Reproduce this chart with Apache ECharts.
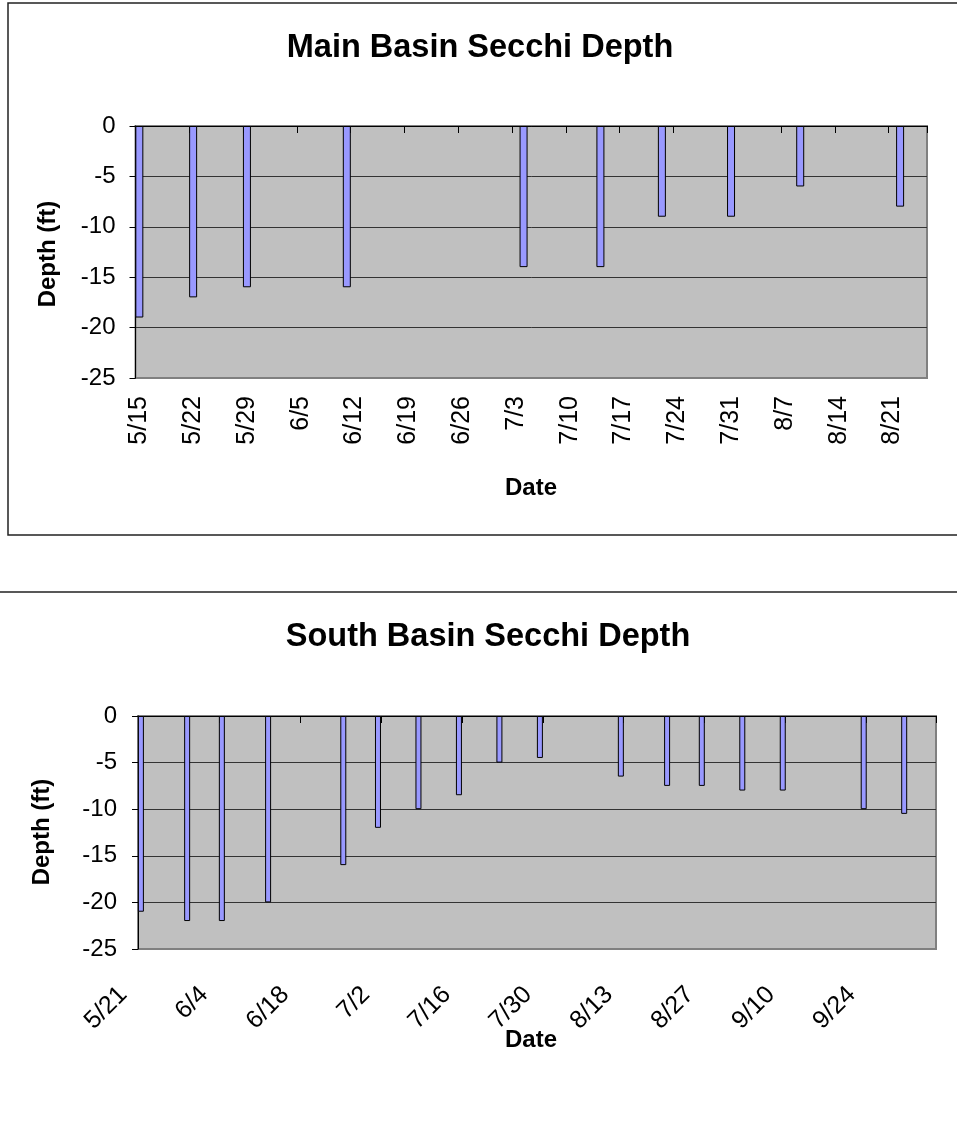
<!DOCTYPE html>
<html>
<head>
<meta charset="utf-8">
<script src="https://cdn.jsdelivr.net/npm/echarts@6/dist/echarts.min.js"></script>
<style>
  html, body { margin: 0; padding: 0; background: #fff; }
  #chart { width: 957px; height: 1123px; }
</style>
</head>
<body>
<div id="chart"></div>
<script>
// Main basin Secchi readings (negative = depth below surface, ft)
const mainDates = ['5/15', '5/22', '5/29', '6/11', '7/4', '7/14', '7/22', '7/31', '8/9', '8/22'];
const mainDepth = [-19, -17, -16, -16, -14, -14, -9, -9, -6, -8];
const mainRange = ['5/15', '8/25'];   // date axis extent
const mainLabelStep = 7;              // one label per week

// South basin Secchi readings
const southDates = ['5/21', '5/29', '6/4', '6/12', '6/25', '7/1', '7/8', '7/15', '7/22', '7/29',
                    '8/12', '8/20', '8/26', '9/2', '9/9', '9/23', '9/30'];
const southDepth = [-21, -22, -22, -20, -16, -12, -10, -8.5, -5, -4.5,
                    -6.5, -7.5, -7.5, -8, -8, -10, -10.5];
const southRange = ['5/21', '10/5'];
const southLabelStep = 14;            // one label every two weeks

// Depth axis
const depthMin = -25, depthMax = 0, depthStep = 5;

const YEAR = 2007;
function toDate(md) {
  const [m, d] = md.split('/').map(Number);
  return Date.UTC(YEAR, m - 1, d);
}
function fmt(t) {
  const d = new Date(t);
  return (d.getUTCMonth() + 1) + '/' + d.getUTCDate();
}
// One category per day across the axis extent; readings placed on their day.
function buildDaily(range, dates, values) {
  const cats = [], vals = [];
  const lookup = {};
  dates.forEach((d, i) => { lookup[fmt(toDate(d))] = values[i]; });
  for (let t = toDate(range[0]); t <= toDate(range[1]); t += 86400000) {
    const k = fmt(t);
    cats.push(k);
    vals.push(k in lookup ? lookup[k] : null);
  }
  return { cats, vals };
}

const mainSet = buildDaily(mainRange, mainDates, mainDepth);
const southSet = buildDaily(southRange, southDates, southDepth);

const FONT = 'Arial, "Liberation Sans", sans-serif';
const gridLineColors = ['#808080', '#333', '#333', '#333', '#333', '#333'];

function topAxis(gridIndex, cats, step) {
  return {
    type: 'category', gridIndex, position: 'top', data: cats, boundaryGap: true, z: 0,
    axisLine: { show: true, onZero: false, lineStyle: { color: '#000', width: 1 } },
    axisTick: { show: true, inside: true, length: 7, interval: step - 1, lineStyle: { color: '#000' } },
    axisLabel: { show: false },
    splitLine: { show: false }
  };
}
function labelAxis(gridIndex, cats, step, rotate, margin, padding) {
  return {
    type: 'category', gridIndex, position: 'bottom', data: cats, boundaryGap: true,
    axisLine: { show: false, onZero: false },
    axisTick: { show: false },
    axisLabel: {
      interval: step - 1, rotate, margin, padding, fontSize: 25, color: '#000', fontFamily: FONT
    },
    splitLine: { show: false }
  };
}
function depthAxis(gridIndex, margin) {
  return {
    type: 'value', gridIndex, min: depthMin, max: depthMax, interval: depthStep,
    axisLine: { show: true, lineStyle: { color: '#000', width: 1 } },
    axisTick: { show: true, length: 6, lineStyle: { color: '#000' } },
    axisLabel: { fontSize: 24, color: '#000', fontFamily: FONT, margin },
    splitLine: { show: true, lineStyle: { color: gridLineColors, width: 1 } }
  };
}

const barStyle = { color: '#9999FF', borderColor: '#000', borderWidth: 1 };

const option = {
  animation: false,
  backgroundColor: '#fff',
  title: [
    { text: 'Main Basin Secchi Depth', left: 475, top: 27, textAlign: 'center',
      textStyle: { fontSize: 32.5, fontWeight: 'bold', color: '#000', fontFamily: FONT } },
    { text: 'South Basin Secchi Depth', left: 483, top: 616, textAlign: 'center',
      textStyle: { fontSize: 32.5, fontWeight: 'bold', color: '#000', fontFamily: FONT } }
  ],
  grid: [
    { left: 135.5, top: 126, width: 791.5, height: 252, show: true,
      backgroundColor: '#C0C0C0', borderColor: '#808080', borderWidth: 2 },
    { left: 138, top: 716, width: 798, height: 233, show: true,
      backgroundColor: '#C0C0C0', borderColor: '#808080', borderWidth: 2 }
  ],
  xAxis: [
    topAxis(0, mainSet.cats, mainLabelStep),
    labelAxis(0, mainSet.cats, mainLabelStep, 90, 18, 0),
    topAxis(1, southSet.cats, southLabelStep),
    labelAxis(1, southSet.cats, southLabelStep, 45, 24, [0, 25, 0, 0])
  ],
  yAxis: [depthAxis(0, 20), depthAxis(1, 21)],
  series: [
    { name: 'Main Basin', type: 'bar', xAxisIndex: 0, yAxisIndex: 0, z: 3,
      data: mainSet.vals, barWidth: 8, itemStyle: barStyle },
    { name: 'South Basin', type: 'bar', xAxisIndex: 2, yAxisIndex: 1, z: 3,
      data: southSet.vals, barWidth: 6, itemStyle: barStyle }
  ],
  graphic: [
    // chart frames
    { type: 'rect', shape: { x: 8, y: 3, width: 1000, height: 532 }, silent: true, z: -10,
      style: { fill: 'none', stroke: '#222', lineWidth: 1.5 } },
    { type: 'rect', shape: { x: -10, y: 592, width: 1000, height: 600 }, silent: true, z: -10,
      style: { fill: 'none', stroke: '#222', lineWidth: 1.5 } },
    // axis titles
    { type: 'text', x: 48, y: 254, rotation: Math.PI / 2,
      style: { text: 'Depth (ft)', font: 'bold 24px ' + FONT, fill: '#000', textAlign: 'center', textVerticalAlign: 'middle' } },
    { type: 'text', x: 531, y: 488,
      style: { text: 'Date', font: 'bold 24px ' + FONT, fill: '#000', textAlign: 'center', textVerticalAlign: 'middle' } },
    { type: 'text', x: 42, y: 832, rotation: Math.PI / 2,
      style: { text: 'Depth (ft)', font: 'bold 24px ' + FONT, fill: '#000', textAlign: 'center', textVerticalAlign: 'middle' } },
    { type: 'text', x: 531, y: 1040,
      style: { text: 'Date', font: 'bold 24px ' + FONT, fill: '#000', textAlign: 'center', textVerticalAlign: 'middle' } }
  ]
};

const chart = echarts.init(document.getElementById('chart'), null, { renderer: 'canvas' });
chart.setOption(option);
</script>
</body>
</html>
